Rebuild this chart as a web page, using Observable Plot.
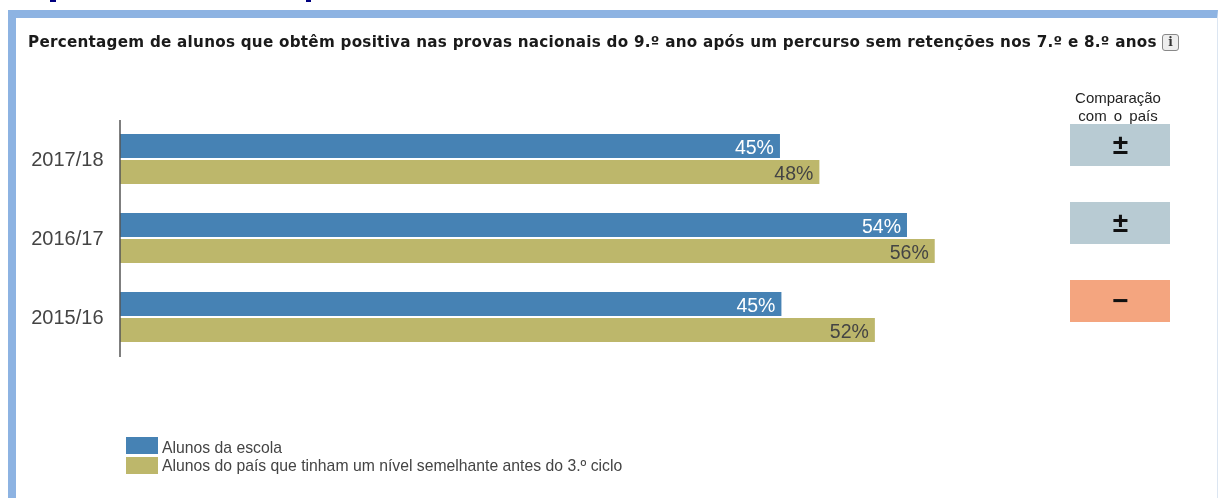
<!DOCTYPE html>
<html lang="pt">
<head>
<meta charset="utf-8">
<script src="https://cdn.jsdelivr.net/npm/d3@7"></script>
<script src="https://cdn.jsdelivr.net/npm/@observablehq/plot@0.6"></script>
<style>
html,body{margin:0;padding:0;background:#fff;}
body{position:relative;width:1220px;height:498px;overflow:hidden;font-family:"Liberation Sans",Arial,sans-serif;filter:blur(0.35px);}
.abs{position:absolute;}
#frame{left:8px;top:10px;width:1210px;height:488px;box-sizing:border-box;border-left:8px solid #8DB3E2;border-top:8px solid #8DB3E2;border-right:1px solid #DCE6F2;}
.shard{top:0;height:2px;background:#00007f;}
#title{left:28px;top:33px;font:bold 15.2px "DejaVu Sans",sans-serif;letter-spacing:0.255px;color:#1a1a1a;white-space:nowrap;}
#info{left:1162px;top:34px;width:15px;height:15px;border:1px solid #888;border-radius:3px;background:#eee;font:bold 12px "DejaVu Serif",serif;color:#333;text-align:center;line-height:15px;}
#head{left:1058px;top:89px;width:120px;text-align:center;font-size:15px;line-height:18px;color:#222;word-spacing:3px;}
.sw{left:126px;width:32px;height:17px;}
.lg{left:162px;font-size:15.75px;line-height:18px;color:#444;white-space:nowrap;}
#bars,#cmp{position:absolute;}
#bars{left:0;top:0;}
#cmp{left:1070px;top:106px;}
svg{background:transparent!important;display:block;}
</style>
</head>
<body>
<div class="abs" id="frame"></div>
<div class="abs shard" style="left:50px;width:6px"></div>
<div class="abs shard" style="left:306px;width:5px"></div>
<div class="abs" id="title"></div>
<div class="abs" id="info">i</div>
<div class="abs" id="head">Comparação<br>com o país</div>
<div id="bars"></div>
<div id="cmp"></div>
<div id="legend"></div>
<script>
const chartTitle = "Percentagem de alunos que obtêm positiva nas provas nacionais do 9.º ano após um percurso sem retenções nos 7.º e 8.º anos";
const years = ["2017/18", "2016/17", "2015/16"];
const series = ["Alunos da escola", "Alunos do país que tinham um nível semelhante antes do 3.º ciclo"];
const colors = ["#4682B4", "#BDB76B"];
const labelColors = ["#ffffff", "#444444"];
const schoolValues = [45.2, 53.9, 45.3];
const countryValues = [47.9, 55.8, 51.7];
const schoolLabels = ["45%", "54%", "45%"];
const countryLabels = ["48%", "56%", "52%"];
const comparison = ["±", "±", "−"];
const comparisonColors = ["#B8CBD3", "#B8CBD3", "#F4A57F"];

document.getElementById("title").textContent = chartTitle;

const rows = [];
years.forEach((year, i) => {
  rows.push({year, series: series[0], value: schoolValues[i], label: schoolLabels[i]});
  rows.push({year, series: series[1], value: countryValues[i], label: countryLabels[i]});
});

const barChart = Plot.plot({
  width: 1060, height: 498,
  marginLeft: 120, marginRight: 0, marginTop: 120, marginBottom: 141,
  style: {background: "transparent", fontFamily: "'Liberation Sans',Arial,sans-serif"},
  x: {domain: [0, 64.38], axis: null},
  y: {domain: series, axis: null, paddingInner: 0.06, paddingOuter: 0.54},
  fy: {domain: years, padding: 0, axis: null},
  color: {domain: series, range: colors},
  marks: [
    Plot.barX(rows, {x: "value", y: "series", fy: "year", fill: "series"}),
    Plot.text(rows, {x: "value", y: "series", fy: "year", text: "label", textAnchor: "end", dx: -6.5, dy: 1, fontSize: 19.5,
      fill: d => labelColors[series.indexOf(d.series)]}),
    Plot.axisFy({anchor: "left", tickSize: 0, tickPadding: 17, fontSize: 20, color: "#444", label: null}),
    Plot.ruleX([0], {stroke: "#555", strokeWidth: 1.5, dx: -0.5})
  ]
});
document.getElementById("bars").append(barChart);

const cmpRows = years.map((year, i) => ({year, sym: comparison[i], fill: comparisonColors[i]}));
const cmpChart = Plot.plot({
  width: 100, height: 234,
  margin: 0,
  style: {background: "transparent", fontFamily: "'Liberation Sans',Arial,sans-serif"},
  x: {domain: ["c"], axis: null, padding: 0},
  y: {domain: years, axis: null, paddingInner: 0.46, paddingOuter: 0.23},
  marks: [
    Plot.cell(cmpRows, {x: () => "c", y: "year", fill: "fill", inset: 0}),
    Plot.text(cmpRows, {x: () => "c", y: "year", text: "sym", fontSize: 28, fontWeight: "bold", fill: "#111"})
  ]
});
document.getElementById("cmp").append(cmpChart);

const legend = document.getElementById("legend");
[437, 457].forEach((top, i) => {
  const s = document.createElement("div");
  s.className = "abs sw"; s.style.top = top + "px"; s.style.background = colors[i];
  legend.append(s);
  const t = document.createElement("div");
  t.className = "abs lg"; t.style.top = (439 + i * 18) + "px"; t.textContent = series[i];
  legend.append(t);
});
</script>
</body>
</html>
